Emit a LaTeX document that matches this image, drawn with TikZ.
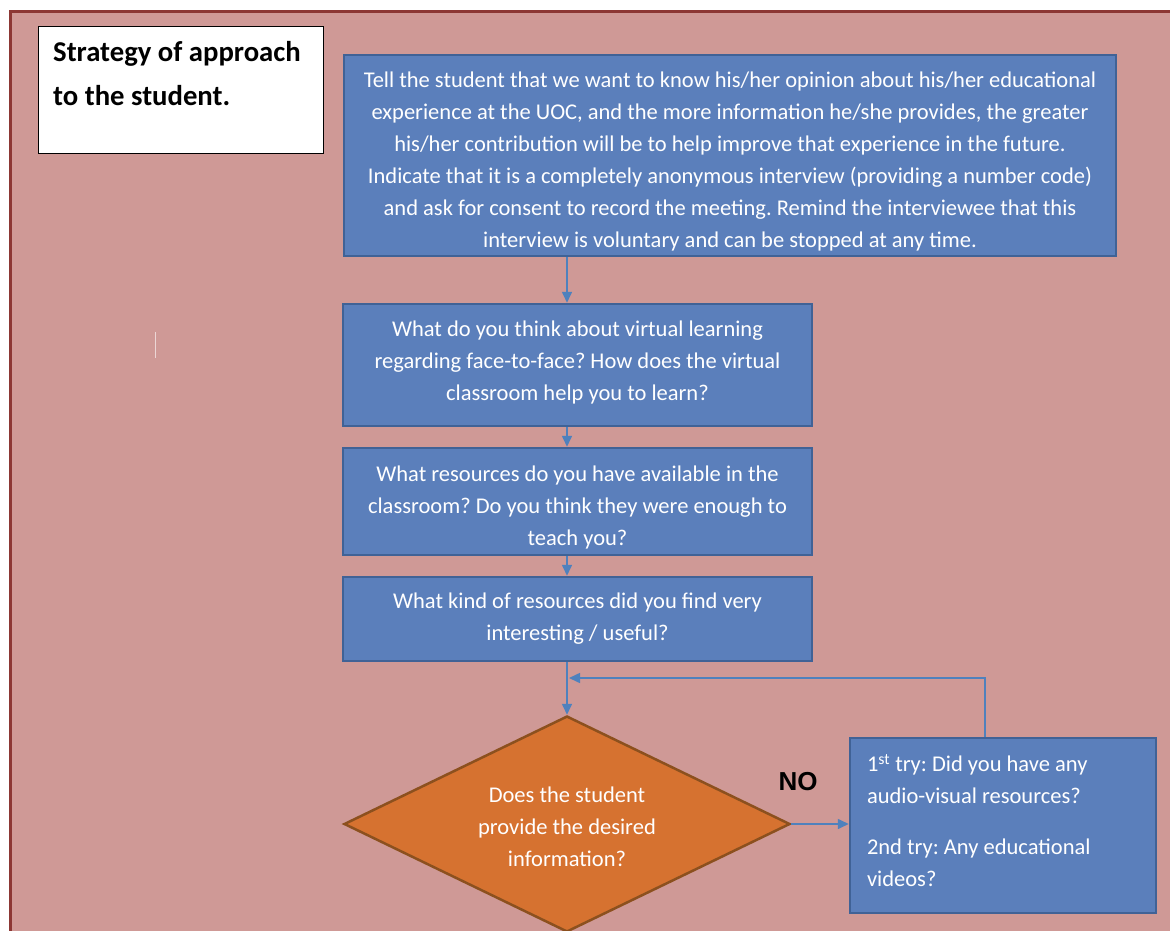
\documentclass[tikz,border=0pt]{standalone}
\usepackage{fontspec}
\setmainfont{Carlito}
\newfontfamily\nofont{Liberation Sans}
\usetikzlibrary{shapes.geometric,arrows.meta}

\definecolor{bgpink}{RGB}{207,153,150}
\definecolor{bgedge}{RGB}{140,55,52}
\definecolor{boxblue}{RGB}{91,127,187}
\definecolor{boxedge}{RGB}{64,98,150}
\definecolor{decorange}{RGB}{214,114,48}
\definecolor{decedge}{RGB}{140,80,30}
\definecolor{flowblue}{RGB}{79,129,189}

% nudge text inside a box: \uptop{n} lowers, \downbot{n} raises
\newcommand{\uptop}[1]{\rule{0pt}{#1}}
\newcommand{\downbot}[1]{\rule[-#1]{0pt}{0pt}}

\tikzset{
  qbox/.style={draw=boxedge, line width=2.5pt, fill=boxblue, text=white,
    align=center, inner sep=0pt, font=\fontsize{22.5}{32}\selectfont\frenchspacing},
  decision/.style={diamond, draw=decedge, line width=2.5pt, fill=decorange,
    text=white, align=center, inner sep=0pt, aspect=2,
    font=\fontsize{22.5}{32}\selectfont},
  titlebox/.style={draw=black, line width=1.2pt, fill=white},
  flow/.style={draw=flowblue, line width=1.6pt,
    -{Triangle[length=11pt,width=10pt]}}
}

\begin{document}
\begin{tikzpicture}[x=1pt,y=-1pt]
  \useasboundingbox (0,0) rectangle (1170,931);
  % page background
  \fill[bgpink] (10,12) rectangle (1175,935);
  \draw[bgedge, line width=3pt] (10,935) -- (10,12) -- (1175,12);
  \draw[white!60!bgpink, line width=1pt] (155,332) -- (155,358);

  % title
  \node[titlebox, anchor=north west, minimum width=285pt, minimum height=127pt] (head) at (38,26) {};
  \node[anchor=north west, align=left, inner sep=0pt, font=\fontsize{28.7}{44}\selectfont\bfseries]
    (headtext) at ([xshift=15pt,yshift=-15pt]head.north west)
    {Strategy of approach\\to the student.};

  % questions
  \node[qbox, minimum width=772pt, minimum height=201pt] (intro) at (730,155.5)
    {\uptop{27pt}Tell the student that we want to know his/her opinion about his/her educational\\
     experience at the UOC, and the more information he/she provides, the greater\\
     his/her contribution will be to help improve that experience in the future.\\
     Indicate that it is a completely anonymous interview (providing a number code)\\
     and ask for consent to record the meeting. Remind the interviewee that this\\
     interview is voluntary and can be stopped at any time.};
  \node[qbox, minimum width=469pt, minimum height=122pt] (virtual) at (577.5,365)
    {What do you think about virtual learning\\
     regarding face-to-face? How does the virtual\\
     classroom help you to learn?\downbot{8pt}};
  \node[qbox, minimum width=469pt, minimum height=107pt] (resources) at (577.5,501.5)
    {\uptop{27pt}What resources do you have available in the\\
     classroom? Do you think they were enough to\\
     teach you?};
  \node[qbox, minimum width=469pt, minimum height=84pt] (useful) at (577.5,619)
    {What kind of resources did you find very\\
     interesting / useful?};

  % decision and retry
  \node[decision, minimum width=446pt, minimum height=216pt] (answer) at (567,824)
    {\uptop{21pt}Does the student\\provide the desired\\information?};
  \node[qbox, align=flush left, text width=272pt, inner xsep=17pt, inner ysep=0pt,
        minimum height=175pt] (retry) at (1003,825.5)
    {1\textsuperscript{st} try: Did you have any\\
     audio-visual resources?\\[19pt]
     2nd try: Any educational\\
     videos?\downbot{10pt}};
  \node[font=\nofont\fontsize{26}{30}\selectfont\bfseries] (no) at (798,782) {NO};

  % connectors
  \coordinate (loop) at (985,678);
  \draw[flow] (intro.south -| answer.north) -- (virtual.north -| answer.north);
  \draw[flow] (virtual.south -| answer.north) -- (resources.north -| answer.north);
  \draw[flow] (resources.south -| answer.north) -- (useful.north -| answer.north);
  \draw[flow] (useful.south -| answer.north) -- (answer.north);
  \draw[flow] (answer.east) -- (answer.east -| retry.west);
  \draw[flow] (loop |- retry.north) -- (loop) -- ([xshift=2pt]loop -| answer.north);
\end{tikzpicture}
\end{document}
